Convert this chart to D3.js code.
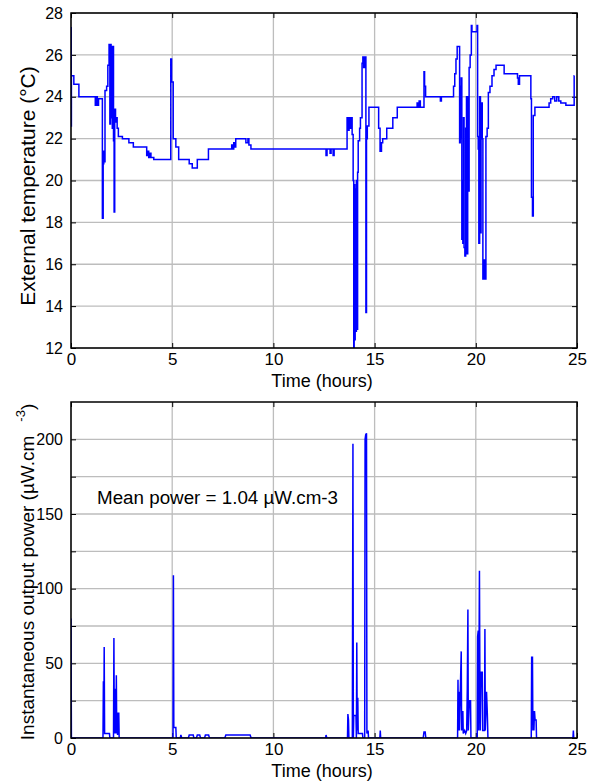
<!DOCTYPE html>
<html><head><meta charset="utf-8">
<script src="https://cdn.jsdelivr.net/npm/d3@7"></script>
<style>
body{margin:0;background:#fff;}
text{font-family:"Liberation Sans",Arial,Helvetica,sans-serif;fill:#000;}
</style></head><body>
<svg id="c" width="598" height="782"></svg>
<script>
// ---------- data ----------
const hourTicks = [0, 5, 10, 15, 20, 25];
const tempTicks = [12, 14, 16, 18, 20, 22, 24, 26, 28];
const powerTicks = [0, 25, 50, 75, 100, 125, 150, 175, 200];
const powerTickLabels = ["0", "", "50", "", "100", "", "150", "", "200"];
const xLabel = "Time (hours)";
const tempLabel = "External temperature (°C)";
const meanPowerText = "Mean power = 1.04 µW.cm-3";

// [hour, °C]
const temperature = [
[0,27.3],[0.01,22.6],[0.02,25.0],[0.14,24.6],[0.39,24.0],[1.2,23.6],[1.25,24.0],[1.3,23.6],[1.36,23.9],
[1.55,18.2],[1.59,20.8],[1.62,21.4],[1.65,20.9],[1.68,24.3],[1.76,24.5],[1.82,25.5],[1.88,26.5],[1.92,22.7],
[1.95,26.5],[1.98,23.0],[2.01,26.4],[2.04,22.5],[2.07,26.4],[2.1,21.9],[2.13,18.5],[2.16,23.4],[2.2,22.8],
[2.24,23.0],[2.28,22.5],[2.34,22.1],[2.54,22.0],[2.86,21.8],[3.08,21.6],[3.74,21.2],[3.8,21.4],[3.84,21.1],
[3.9,21.3],[3.95,21.1],[4.09,21.0],[4.93,25.8],[4.97,24.7],[5.05,22.0],[5.18,21.6],[5.32,21.0],[5.84,20.8],
[5.99,20.6],[6.24,21.0],[6.79,21.5],[7.94,21.7],[7.99,21.5],[8.04,21.8],[8.09,21.6],[8.14,22.0],[8.64,21.8],
[8.74,22.0],[8.79,21.7],[8.89,21.5],
[12.6,21.2],[12.65,21.5],[12.8,21.3],[12.85,21.5],[12.95,21.2],[13.0,21.5],[13.64,23.0],[13.69,22.4],
[13.74,23.0],[13.79,22.5],[13.84,23.0],[13.89,22.2],[13.94,20.0],[13.97,12.0],[13.99,19.8],[14.02,12.4],
[14.04,19.6],[14.07,12.8],[14.1,20.0],[14.13,12.9],[14.16,20.4],[14.19,21.9],[14.26,22.5],[14.3,23.0],
[14.38,25.6],[14.42,25.9],[14.46,25.4],[14.5,25.9],[14.57,13.7],[14.6,22.0],[14.64,22.6],[14.72,23.5],
[15.2,22.5],[15.27,21.4],[15.34,21.8],[15.4,22.0],[15.6,22.5],[15.9,23.0],[16.12,23.5],[17.1,23.7],
[17.15,23.5],[17.2,23.8],[17.26,23.5],[17.44,25.2],[17.47,24.5],[17.52,24.0],[18.25,23.8],[18.3,24.0],
[18.9,24.5],[18.96,25.1],[19.02,25.8],[19.08,26.4],[19.2,21.8],[19.23,24.5],[19.26,22.0],[19.28,24.9],
[19.31,17.2],[19.33,20.0],[19.36,17.0],[19.39,23.0],[19.42,16.8],[19.46,16.4],[19.5,22.5],[19.54,24.0],
[19.57,16.5],[19.6,24.0],[19.63,19.5],[19.67,25.4],[19.72,26.0],[19.78,27.4],[19.81,27.1],[20.06,27.4],
[20.09,22.1],[20.12,21.5],[20.15,17.0],[20.19,24.0],[20.23,17.5],[20.26,23.7],[20.32,22.0],[20.35,15.3],
[20.4,16.2],[20.44,15.3],[20.5,22.1],[20.56,22.5],[20.62,24.2],[20.7,24.5],[20.8,25.0],[20.9,25.3],
[21.0,25.5],[21.4,25.1],[22.06,24.9],[22.1,24.6],[22.16,25.0],[22.72,23.9],[22.75,19.2],[22.8,18.3],
[22.84,23.1],[22.92,23.5],[23.62,23.7],[23.7,23.9],[23.8,24.0],[23.9,23.8],[24.0,24.0],[24.1,23.8],
[24.2,23.7],[24.45,23.6],[24.86,25.0],[24.87,25.0]
];

// [hour, µW/cm3]
const power = [
[0,80],[0.02,0],[1.58,0],[1.6,38],[1.62,5],[1.64,61],[1.66,3],[1.9,3],[1.92,0],[2.1,0],[2.12,67],[2.14,3],
[2.16,33],[2.18,3],[2.2,33],[2.22,3],[2.24,42],[2.26,3],[2.28,17],[2.3,2],[2.32,17],[2.34,3],[2.36,17],[2.38,0],
[5.04,0],[5.06,109],[5.08,7],[5.18,7],[5.2,0],[5.4,0],[5.43,2],[5.47,0],[5.8,0],[5.84,2],[6.04,2],[6.07,0],
[6.2,0],[6.24,2],[6.36,2],[6.4,0],[6.6,0],[6.64,2],[6.8,2],[6.84,0],[7.6,0],[7.65,2],[8.85,2],[8.9,0],
[12.58,0],[12.6,2],[12.64,0],[13.66,0],[13.68,16],[13.71,12],[13.73,0],[13.9,0],[13.93,197],[13.95,0],
[13.97,15],[14.08,15],[14.1,0],[14.12,64],[14.14,5],[14.17,27],[14.19,3],[14.4,3],[14.42,0],[14.51,0],
[14.53,200],[14.56,203],[14.6,204],[14.62,3],[14.68,5],[14.7,0],[15.26,0],[15.28,5],[15.3,0],[17.4,0],
[17.44,4],[17.5,4],[17.53,0],
[19.1,0],[19.12,39],[19.14,5],[19.17,31],[19.19,5],[19.28,58],[19.3,5],[19.36,18],[19.38,3],[19.45,5],
[19.5,3],[19.55,5],[19.58,33],[19.61,86],[19.63,5],[19.68,25],[19.74,25],[19.76,0],
[20.07,0],[20.09,68],[20.12,72],[20.14,5],[20.18,112],[20.2,44],[20.22,5],[20.26,44],[20.32,44],[20.34,5],
[20.43,5],[20.45,73],[20.47,5],[20.53,31],[20.57,16],[20.6,0],
[22.74,0],[22.76,54],[22.8,54],[22.82,5],[22.85,18],[22.87,5],[22.9,18],[22.93,12],[22.98,12],[23.0,0],
[24.8,0],[24.82,5],[24.84,0],[24.87,0]
];

// ---------- layout ----------
const svg = d3.select("#c");
const L = 71, R = 577;
const gridCol = "#bdbdbd", lineCol = "#0000ff";

function panel(id, top, bottom, yDomain, yTicks, yTickLabels, data, curve) {
  const x = d3.scaleLinear().domain([0, 25]).range([L, R]);
  const y = d3.scaleLinear().domain(yDomain).range([bottom, top]);
  const g = svg.append("g");
  g.append("clipPath").attr("id", id).append("rect")
    .attr("x", L).attr("y", top).attr("width", R - L).attr("height", bottom - top);
  // grid
  g.append("g").selectAll("line").data(hourTicks).join("line")
    .attr("x1", d => x(d)).attr("x2", d => x(d)).attr("y1", top).attr("y2", bottom)
    .attr("stroke", gridCol).attr("stroke-width", 1.3);
  g.append("g").selectAll("line").data(yTicks).join("line")
    .attr("x1", L).attr("x2", R).attr("y1", d => y(d)).attr("y2", d => y(d))
    .attr("stroke", gridCol).attr("stroke-width", 1.3);
  // axes (ticks inward, both sides)
  const tl = 5;
  const axB = g.append("g").attr("transform", `translate(0,${bottom})`)
    .call(d3.axisBottom(x).tickValues(hourTicks).tickSize(-tl).tickPadding(5).tickFormat(d3.format("d")));
  const axT = g.append("g").attr("transform", `translate(0,${top})`)
    .call(d3.axisTop(x).tickValues(hourTicks).tickSize(-tl).tickFormat(""));
  const axL = g.append("g").attr("transform", `translate(${L},0)`)
    .call(d3.axisLeft(y).tickValues(yTicks).tickSize(-tl).tickPadding(8).tickFormat((d, i) => yTickLabels[i]));
  const axR = g.append("g").attr("transform", `translate(${R},0)`)
    .call(d3.axisRight(y).tickValues(yTicks).tickSize(-tl).tickFormat(""));
  [axB, axT, axL, axR].forEach(a => {
    a.select(".domain").remove();
    a.selectAll(".tick line").attr("stroke", "#000").attr("stroke-width", 1);
  });
  axB.selectAll("text").attr("font-size", 17).attr("dy", "0.71em").attr("font-family", "Liberation Sans, Arial, sans-serif");
  axL.selectAll("text").attr("font-size", 16).attr("font-family", "Liberation Sans, Arial, sans-serif");
  // data line
  g.append("path").datum(data)
    .attr("clip-path", `url(#${id})`)
    .attr("fill", "none").attr("stroke", lineCol).attr("stroke-width", 1.5)
    .attr("d", d3.line().x(d => x(d[0])).y(d => y(d[1])).curve(curve));
  // box
  g.append("rect").attr("x", L).attr("y", top).attr("width", R - L).attr("height", bottom - top)
    .attr("fill", "none").attr("stroke", "#000").attr("stroke-width", 1.5);
  // x label
  g.append("text").attr("x", (L + R) / 2 - 2).attr("y", bottom + 39)
    .attr("text-anchor", "middle").attr("font-size", 18).text(xLabel);
  return { x, y, g };
}

const p1 = panel("clipTop", 13, 348, [12, 28], tempTicks, tempTicks.map(String), temperature, d3.curveStepAfter);
p1.g.append("text").attr("transform", `translate(35,186) rotate(-90)`)
  .attr("text-anchor", "middle").attr("font-size", 21).text(tempLabel);

const p2 = panel("clipBot", 402, 738, [0, 225], powerTicks, powerTickLabels, power, d3.curveLinear);
const yl = p2.g.append("text").attr("transform", `translate(34,572) rotate(-90)`)
  .attr("text-anchor", "middle").attr("font-size", 19);
yl.append("tspan").text("Instantaneous output power (µW.cm");
yl.append("tspan").attr("dx", 14).attr("dy", -9).attr("font-size", 13).text("-3");
yl.append("tspan").attr("dy", 9).text(")");

p2.g.append("text").attr("x", 97).attr("y", 504).attr("font-size", 18.8).text(meanPowerText);
</script>
</body></html>
